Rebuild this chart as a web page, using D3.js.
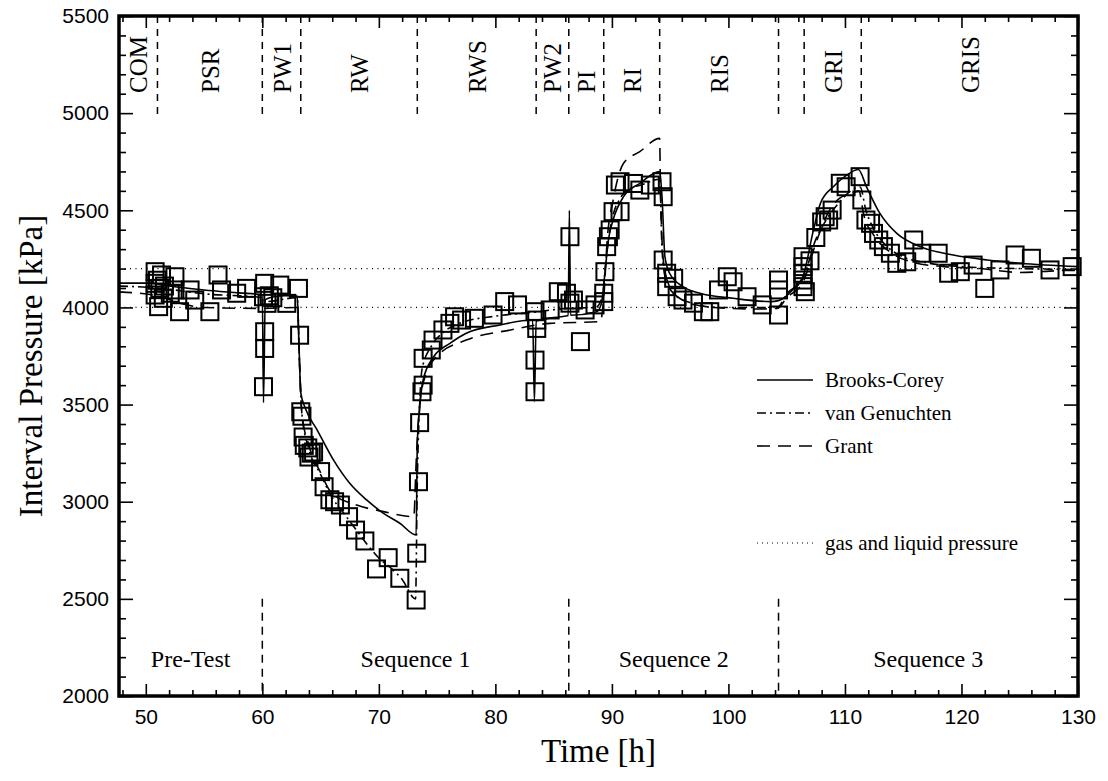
<!DOCTYPE html>
<html>
<head>
<meta charset="utf-8">
<script src="https://cdn.jsdelivr.net/npm/d3@7"></script>
<style>
	body { margin: 0; background: #fff; }
	.serif { font-family: "Liberation Serif", "Times New Roman", serif; fill: #000; }
	.tick text { font-family: "Liberation Sans", Arial, sans-serif; font-size: 21px; fill: #000; }
</style>
</head>
<body>
<svg id="chart" width="1108" height="781"></svg>
<script>

// measured interval pressure [h, kPa]
var measured = [
	[50.8,4184],[51.35,4167],[50.8,4124],[51.2,4098],[50.8,4064],[51.5,4047],[51.1,4004],[51.0,4140],[51.6,4110],
	[52.5,4158],[52.5,4090],[52.1,4073],[52.9,3978],[53.8,4090],[54.2,4038],[55.5,3978],[56.2,4167],[56.5,4090],
	[57.8,4073],[58.65,4098],
	[60.2,4124],[60.1,4055],[60.4,4021],[60.6,4060],[60.9,4050],[61.5,4115],[62.1,4021],[63.1,4098],
	[60.2,3875],[60.2,3789],[60.1,3592],
	[63.2,3857],[63.3,3463],[63.4,3440],[63.5,3333],[63.6,3290],[63.9,3277],[64.2,3250],[64.4,3256],[64.0,3230],
	[65.0,3155],[65.3,3077],[65.8,3010],[66.2,3000],[66.7,2983],[67.4,2923],[68.0,2854],[68.8,2798],[69.8,2654],
	[70.8,2712],[71.8,2606],[73.2,2494],[73.25,2735],
	[73.4,3103],[73.5,3407],[73.7,3566],[73.8,3600],[73.8,3738],[74.5,3781],[74.65,3832],[75.5,3884],[76.1,3918],
	[76.5,3952],[77.1,3935],[78.2,3944],[79.8,3961],[80.8,4030],[81.9,4013],[83.4,3978],[83.55,3935],[83.55,3892],
	[83.4,3729],[83.4,3566],[84.7,3987],
	[85.4,4081],[86.1,4073],[86.4,4022],[86.7,4038],[86.4,4364],[87.3,3824],[87.7,3987],[88.55,4013],
	[89.3,4073],[89.3,4030],[89.4,4184],[89.55,4313],[89.7,4364],[89.85,4399],[90.1,4493],[90.7,4493],[90.3,4630],
	[90.7,4647],[91.85,4638],[92.4,4604],[93.3,4630],[94.3,4647],[94.4,4570],
	[94.4,4244],[94.7,4176],[95.3,4150],[94.7,4107],[95.6,4055],[96.1,4038],[97.0,4022],[97.85,3978],[98.4,3978],
	[99.9,4158],[99.15,4090],[100.4,4132],[101.6,4055],[102.9,4013],[104.3,3961],[104.3,4141],[104.3,4090],
	[106.4,4261],[106.4,4210],[106.4,4176],[106.4,4141],[106.4,4107],[106.6,4081],[107.0,4240],[107.5,4360],
	[108.0,4440],[108.3,4467],[108.6,4450],[108.9,4501],[109.6,4639],[110.1,4621],[111.3,4673],[111.45,4553],
	[111.8,4450],[112.2,4433],[112.45,4381],[112.9,4347],[113.3,4313],[113.9,4279],[114.45,4227],[115.3,4235],
	[115.9,4347],[116.6,4279],[118.0,4279],[118.9,4176],[119.9,4184],[121.0,4218],[122.0,4098],[123.3,4193],
	[124.6,4270],[126.0,4253],[127.6,4193],[129.5,4210]
];

// model curves [h, kPa]
var brooksCorey = [
	[47.7,4125],[50.5,4125],[52,4110],[55,4090],[58,4075],[60.0,4065],[60.1,3510],[60.25,4040],[61,4055],[62,4060],
	[63.0,4058],[63.15,3800],[63.3,3560],[63.7,3480],[64.7,3370],[66.1,3215],[67.5,3095],[68.95,3009],[70.4,2940],
	[71.8,2889],[73.2,2829],[73.3,3300],[73.5,3480],[73.8,3627],[74.7,3746],[76.1,3815],[77.5,3867],[80.4,3910],
	[83.2,3935],[83.35,3515],[83.5,3930],[85.55,3952],[86.25,3958],[86.35,4500],[86.45,3960],[88.7,3978],[89.1,4021],
	[89.4,4176],[89.7,4347],[90.1,4450],[91.0,4570],[92.4,4639],[94.1,4699],[94.3,4570],[94.55,4261],[94.95,4176],
	[96.1,4107],[97.55,4073],[100.4,4047],[103.6,4030],[104.3,4035],[105.5,4090],[106.4,4160],[107.3,4399],
	[107.9,4536],[109.0,4621],[110.15,4681],[111.15,4710],[111.85,4621],[113.0,4484],[114.45,4381],[116.45,4313],
	[119.3,4270],[122.2,4244],[125.0,4227],[130,4210]
];

var vanGenuchten = [
	[47.7,4110],[51,4100],[55,4070],[60.0,4050],[60.25,4030],[63.0,4050],[63.2,3700],[63.4,3450],[64,3270],
	[65,3140],[66,3020],[67,2940],[68,2860],[69,2780],[70,2710],[71,2660],[72,2600],[73.15,2500],[73.3,3100],
	[73.5,3500],[73.7,3680],[74.5,3800],[75.5,3870],[77,3920],[80,3955],[83.2,3975],[86.2,3995],[88.6,4000],
	[89.2,4060],[89.5,4250],[90,4450],[90.7,4560],[91.5,4610],[92.5,4630],[94.1,4660],[94.3,4300],[94.6,4150],
	[95.5,4060],[97,4020],[99,4000],[101,4000],[104.2,4000],[105,4070],[106.4,4150],[107.5,4350],[108.5,4460],
	[109.5,4540],[110.5,4600],[111.3,4620],[111.8,4500],[112.5,4400],[113.5,4320],[115,4260],[117,4230],
	[120,4210],[125,4200],[130,4195]
];

var grant = [
	[47.7,4080],[51,4060],[53,4020],[55,4000],[60.0,3995],[63.0,4000],[63.2,3700],[63.4,3450],[64,3290],
	[65,3150],[65.95,3045],[68.1,2983],[70.4,2949],[73.0,2923],[73.2,3200],[73.5,3500],[74,3650],[75,3750],
	[77.5,3832],[81.3,3884],[84.7,3918],[89.0,3927],[89.3,4050],[89.6,4350],[90.1,4550],[91.0,4742],[92.4,4802],
	[94.1,4870],[94.15,4690],[94.4,4250],[95,4100],[96,4040],[98,4005],[100.2,3995],[102.4,3992],[104.2,3995],
	[105,4050],[106.4,4130],[107.5,4330],[108.5,4480],[109.5,4560],[110.5,4585],[111.2,4600],[111.6,4480],
	[112.5,4370],[114,4280],[116,4230],[118.5,4210],[121.6,4200],[125.0,4180],[129,4190],[130,4190]
];

// gas and liquid pressure levels [kPa]
var gasLiquid = [4200, 4000];

// test phases: name, start [h], end [h]
var phases = [
	["COM",47.7,51],["PSR",51,60],["PW1",60,63.3],["RW",63.3,73.3],["RWS",73.3,83.5],["PW2",83.5,86.3],
	["PI",86.3,89.3],["RI",89.3,94.1],["RIS",94.1,104.3],["GRI",106.5,111.4],["GRIS",111.4,130]
];
var phaseBounds = [51, 60, 63.3, 73.3, 83.5, 86.3, 89.3, 94.1, 104.3, 106.5, 111.4];

var sequences = [["Pre-Test",47.7,60],["Sequence 1",60,86.3],["Sequence 2",86.3,104.3],["Sequence 3",104.3,130]];
var sequenceBounds = [60, 86.3, 104.3];

var xTicks = [50, 60, 70, 80, 90, 100, 110, 120, 130],
	yTicks = [2000, 2500, 3000, 3500, 4000, 4500, 5000, 5500];

var legend = [
	{name: "Brooks-Corey", dash: null, row: 0},
	{name: "van Genuchten", dash: "9,4,2,4", row: 1},
	{name: "Grant", dash: "13,8", row: 2},
	{name: "gas and liquid pressure", dash: "1,4", row: 5}
];

var svg = d3.select("#chart"),
	margin = {top: 16, right: 30, bottom: 85, left: 119},
	width = +svg.attr("width"),
	height = +svg.attr("height");

var x = d3.scaleLinear()
	.domain([47.7, 130])
	.range([margin.left, width - margin.right])

var y = d3.scaleLinear()
	.domain([2000, 5500])
	.range([height - margin.bottom, margin.top])

var xMinor = d3.range(48, 131, 2).filter(d => d % 10 != 0),
	yMinor = d3.range(2000, 5501, 100).filter(d => d % 500 != 0);

// axes with inward ticks
function axisStyle(g) {
	g.select(".domain").remove();
	g.selectAll(".tick line").attr("stroke", "#000").attr("stroke-width", 1.6);
}

svg.append("g")
	.attr("transform", "translate(0," + y(2000) + ")")
	.call(d3.axisBottom(x).tickValues(xTicks).tickSize(-12).tickPadding(13).tickFormat(d3.format("d")))
	.call(axisStyle);
svg.append("g")
	.attr("transform", "translate(0," + y(2000) + ")")
	.call(d3.axisBottom(x).tickValues(xMinor).tickSize(-6).tickFormat(""))
	.call(axisStyle);
svg.append("g")
	.attr("transform", "translate(0," + y(5500) + ")")
	.call(d3.axisTop(x).tickValues(xTicks).tickSize(-12).tickFormat(""))
	.call(axisStyle);
svg.append("g")
	.attr("transform", "translate(0," + y(5500) + ")")
	.call(d3.axisTop(x).tickValues(xMinor).tickSize(-6).tickFormat(""))
	.call(axisStyle);

svg.append("g")
	.attr("transform", "translate(" + x.range()[0] + ",0)")
	.call(d3.axisLeft(y).tickValues(yTicks).tickSize(-14).tickPadding(10).tickFormat(d3.format("d")))
	.call(axisStyle);
svg.append("g")
	.attr("transform", "translate(" + x.range()[0] + ",0)")
	.call(d3.axisLeft(y).tickValues(yMinor).tickSize(-7).tickFormat(""))
	.call(axisStyle);
svg.append("g")
	.attr("transform", "translate(" + x.range()[1] + ",0)")
	.call(d3.axisRight(y).tickValues(yTicks).tickSize(-14).tickFormat(""))
	.call(axisStyle);
svg.append("g")
	.attr("transform", "translate(" + x.range()[1] + ",0)")
	.call(d3.axisRight(y).tickValues(yMinor).tickSize(-7).tickFormat(""))
	.call(axisStyle);

// gas and liquid pressure
svg.selectAll(".gl")
	.data(gasLiquid)
	.enter().append("line")
	.attr("x1", x.range()[0]).attr("x2", x.range()[1])
	.attr("y1", d => y(d)).attr("y2", d => y(d))
	.attr("stroke", "#000").attr("stroke-width", 1.3)
	.attr("stroke-dasharray", "1,4.5");

// phase and sequence boundaries
svg.selectAll(".pb")
	.data(phaseBounds)
	.enter().append("line")
	.attr("x1", d => x(d)).attr("x2", d => x(d))
	.attr("y1", y(5500)).attr("y2", y(4990))
	.attr("stroke", "#000").attr("stroke-width", 1.5)
	.attr("stroke-dasharray", "7,6");

svg.selectAll(".sb")
	.data(sequenceBounds)
	.enter().append("line")
	.attr("x1", d => x(d)).attr("x2", d => x(d))
	.attr("y1", y(2500)).attr("y2", y(2000))
	.attr("stroke", "#000").attr("stroke-width", 1.5)
	.attr("stroke-dasharray", "8,6");

svg.selectAll(".phase")
	.data(phases)
	.enter().append("text")
	.attr("class", "serif")
	.attr("transform", d => "translate(" + (x((d[1] + d[2]) / 2) + 9) + ",93) rotate(-90)")
	.style("font-size", "25px")
	.text(d => d[0]);

svg.selectAll(".seq")
	.data(sequences)
	.enter().append("text")
	.attr("class", "serif")
	.attr("x", d => x((d[1] + d[2]) / 2))
	.attr("y", y(2150))
	.attr("text-anchor", "middle")
	.style("font-size", "24px")
	.text(d => d[0]);

// model curves
var line = d3.line()
	.x(d => x(d[0]))
	.y(d => y(d[1]))
	.curve(d3.curveMonotoneX);

var models = [
	{data: brooksCorey, dash: null},
	{data: vanGenuchten, dash: "9,4,2,4"},
	{data: grant, dash: "13,8"}
];

svg.selectAll(".model")
	.data(models)
	.enter().append("path")
	.attr("d", d => line(d.data))
	.attr("fill", "none")
	.attr("stroke", "#000")
	.attr("stroke-width", 1.6)
	.attr("stroke-dasharray", d => d.dash);

// measured squares
var s = 17;
svg.selectAll(".pt")
	.data(measured)
	.enter().append("rect")
	.attr("x", d => x(d[0]) - s / 2)
	.attr("y", d => y(d[1]) - s / 2)
	.attr("width", s).attr("height", s)
	.attr("fill", "none")
	.attr("stroke", "#000")
	.attr("stroke-width", 2);

// legend
var lg = svg.append("g")
	.attr("transform", "translate(757,380)");

var row = lg.selectAll("g")
	.data(legend)
	.enter().append("g")
	.attr("transform", d => "translate(0," + (d.row == 5 ? 163 : d.row * 33) + ")");

row.append("line")
	.attr("x1", 0).attr("x2", 56)
	.attr("stroke", "#000")
	.attr("stroke-width", d => d.row == 5 ? 1.2 : 1.6)
	.attr("stroke-dasharray", d => d.dash);

row.append("text")
	.attr("class", "serif")
	.attr("x", 68)
	.attr("dy", "0.33em")
	.style("font-size", "21px")
	.text(d => d.name);

// frame
svg.append("rect")
	.attr("x", x.range()[0]).attr("y", y(5500))
	.attr("width", x.range()[1] - x.range()[0])
	.attr("height", y(2000) - y(5500))
	.attr("fill", "none")
	.attr("stroke", "#000")
	.attr("stroke-width", 3.5);

// axis titles
svg.append("text")
	.attr("class", "serif")
	.attr("x", (x.range()[0] + x.range()[1]) / 2)
	.attr("y", 762)
	.attr("text-anchor", "middle")
	.style("font-size", "33px")
	.text("Time [h]");

svg.append("text")
	.attr("class", "serif")
	.attr("transform", "translate(42," + ((y(2000) + y(5500)) / 2 + 10) + ") rotate(-90)")
	.attr("text-anchor", "middle")
	.style("font-size", "33px")
	.text("Interval Pressure [kPa]");

</script>
</body>
</html>
